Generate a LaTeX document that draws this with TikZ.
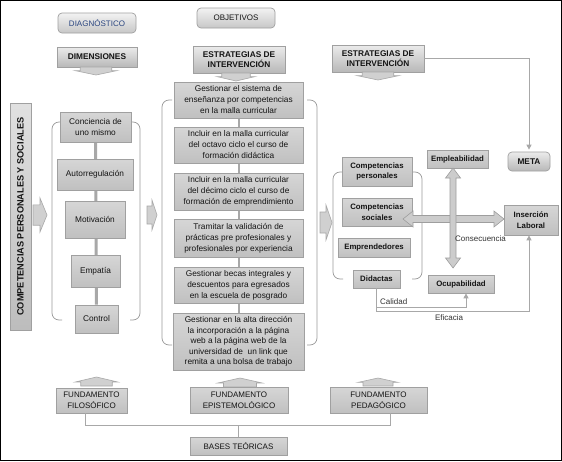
\documentclass[tikz,border=0pt]{standalone}
\usepackage{fontspec}
\setmainfont{Liberation Sans}
\usetikzlibrary{arrows.meta,backgrounds,calc}
\definecolor{bord}{HTML}{A0A0A0}
\definecolor{connc}{HTML}{A8A8A8}
\definecolor{txt}{HTML}{141414}
\definecolor{hdrtop}{HTML}{EBEBEB}
\definecolor{hdrbot}{HTML}{B8B8B8}
\definecolor{boxtop}{HTML}{D6D6D6}
\definecolor{boxbot}{HTML}{C0C0C0}
\definecolor{blkfill}{HTML}{D0D0D0}
\definecolor{blkdraw}{HTML}{A8A8A8}
\definecolor{diagblue}{HTML}{2A4580}
\newcommand\fsz[2]{\fontsize{#1}{#2}\selectfont}
\newcommand\blkright[4]{%
 \filldraw[blk] (#1,{#2-0.6*#4}) -- ({#1+0.5*#3},{#2-0.6*#4}) -- ({#1+0.5*#3},{#2-#4}) -- ({#1+#3},#2) -- ({#1+0.5*#3},{#2+#4}) -- ({#1+0.5*#3},{#2+0.6*#4}) -- (#1,{#2+0.6*#4}) -- cycle;}
\newcommand\blkvert[4]{%
 \filldraw[blk] ({#1-0.75*#4},#2) -- ({#1+0.75*#4},#2) -- ({#1+0.75*#4},{#2+0.45*(#3)}) -- ({#1+#4},{#2+0.45*(#3)}) -- (#1,{#2+(#3)}) -- ({#1-#4},{#2+0.45*(#3)}) -- ({#1-0.75*#4},{#2+0.45*(#3)}) -- cycle;}
\newcommand\dblh[5]{%
 \filldraw[dbl] (#1,#3) -- ({#1+10},{#3-#5}) -- ({#1+10},{#3-#4}) -- ({#2-10},{#3-#4}) -- ({#2-10},{#3-#5}) -- (#2,#3) -- ({#2-10},{#3+#5}) -- ({#2-10},{#3+#4}) -- ({#1+10},{#3+#4}) -- ({#1+10},{#3+#5}) -- cycle;}
\newcommand\dblv[5]{%
 \filldraw[dbl] (#3,#1) -- ({#3-#5},{#1+10}) -- ({#3-#4},{#1+10}) -- ({#3-#4},{#2-10}) -- ({#3-#5},{#2-10}) -- (#3,#2) -- ({#3+#5},{#2-10}) -- ({#3+#4},{#2-10}) -- ({#3+#4},{#1+10}) -- ({#3+#5},{#1+10}) -- cycle;}
\tikzset{
 base/.style={rectangle, inner sep=0pt, align=center, text=txt, draw=bord, line width=0.7pt},
 hdr/.style={base, top color=hdrtop, bottom color=hdrbot, font=\fsz{8.3}{10}\bfseries},
 box/.style={base, top color=boxtop, bottom color=boxbot, font=\fsz{8.3}{11}},
 rbox/.style={box, font=\fsz{7.8}{10.5}\bfseries},
 pill/.style={base, rounded corners=4pt, top color=white!95!black, bottom color=black!22, font=\fsz{8}{10}},
 fund/.style={box, font=\fsz{8}{11}},
 brk/.style={draw=black!40, line width=0.7pt, rounded corners=7pt},
 conn/.style={draw=connc, line width=1pt},
 blk/.style={fill=blkfill, draw=blkdraw, line width=0.6pt},
 dbl/.style={fill=black!20, draw=black!38, line width=0.6pt},
 lbl/.style={font=\fsz{8}{10}, text=black!80, inner sep=0pt},
 tip/.style={-{Triangle[length=5pt,width=5pt]}}
}
\begin{document}
\begin{tikzpicture}[x=1pt,y=-1pt]
\useasboundingbox (0,0) rectangle (562,461);

% top row
\node[pill, text=diagblue, minimum width=78pt, minimum height=20pt] (diag) at (97,23) {DIAGNÓSTICO};
\node[pill, minimum width=78pt, minimum height=20pt] (obj) at (236,18) {OBJETIVOS};
\node[hdr, minimum width=80pt, minimum height=20pt] (dim) at (97,57) {DIMENSIONES};
\node[hdr, minimum width=92pt, minimum height=27pt] (em) at (239,59.5) {ESTRATEGIAS DE\\INTERVENCIÓN};
\node[hdr, minimum width=92pt, minimum height=27pt] (er) at (378,58.5) {ESTRATEGIAS DE\\INTERVENCIÓN};
\node[hdr, font=\fsz{8.3}{10}\bfseries, rounded corners=4pt, minimum width=42pt, minimum height=19pt] (meta) at (529,161.5) {META};

\blkvert{96}{67}{8}{21}
\blkvert{236}{73}{8}{19}
\blkvert{378}{72}{8}{21}

% left bar
\node[base, top color=black!12, bottom color=black!26, minimum width=227pt, minimum height=21pt, rotate=90, font=\fsz{9.2}{11}\bfseries] (bar) at (20.5,216.5) {COMPETENCIAS PERSONALES Y SOCIALES};

% left column
\node[box, minimum width=71pt, minimum height=30pt] (c1) at (95.5,127) {Conciencia de\\uno mismo};
\node[box, minimum width=76pt, minimum height=31pt] (c2) at (95,174.5) {Autorregulación};
\node[box, minimum width=60pt, minimum height=37pt] (c3) at (95,219.5) {Motivación};
\node[box, minimum width=49pt, minimum height=32pt] (c4) at (95.5,271) {Empatía};
\node[box, minimum width=43pt, minimum height=28pt] (c5) at (96.5,319) {Control};

\blkright{33}{215}{14}{17}
\blkright{147}{215}{10}{15}
\blkright{320}{222.5}{12}{17.5}

% middle column
\node[box, minimum width=129pt, minimum height=36pt] (m1) at (238.5,100) {Gestionar el sistema de\\enseñanza por competencias\\en la malla curricular};
\node[box, minimum width=129pt, minimum height=36pt] (m2) at (238.5,145) {Incluir en la malla curricular\\del octavo ciclo el curso de\\formación didáctica};
\node[box, minimum width=129pt, minimum height=37pt] (m3) at (238.5,191.5) {Incluir en la malla curricular\\del décimo ciclo el curso de\\formación de emprendimiento};
\node[box, minimum width=129pt, minimum height=38pt] (m4) at (238.5,238) {Tramitar la validación de\\prácticas pre profesionales y\\profesionales por experiencia};
\node[box, minimum width=129pt, minimum height=36pt] (m5) at (238.5,285) {Gestionar becas integrales y\\descuentos para egresados\\en la escuela de posgrado};
\node[box, font=\fsz{8.3}{10.6}, minimum width=131pt, minimum height=57pt] (m6) at (238.5,341.5) {Gestionar en la alta dirección\\la incorporación a la página\\web a la página web de la\\universidad de\ \ un link que\\remita a una bolsa de trabajo};

% right group
\node[rbox, minimum width=70pt, minimum height=29pt] (r1) at (377,171.5) {Competencias\\personales};
\node[rbox, minimum width=70pt, minimum height=28pt] (r2) at (377,212) {Competencias\\sociales};
\node[rbox, minimum width=72pt, minimum height=19pt] (r3) at (374,247.5) {Emprendedores};
\node[rbox, minimum width=47pt, minimum height=18pt] (did) at (376.5,279) {Didactas};
\node[rbox, minimum width=61pt, minimum height=18pt] (empl) at (457.5,159) {Empleabilidad};
\node[rbox, minimum width=66pt, minimum height=18pt] (ocup) at (461,284) {Ocupabilidad};
\node[rbox, minimum width=54pt, minimum height=30pt] (ins) at (531,220) {Inserción\\Laboral};

\dblh{403}{504}{219}{3.5}{8}
\dblv{168}{268}{453}{3}{7.5}

\node[lbl, anchor=west] (lcons) at (455,239) {Consecuencia};
\node[lbl, anchor=west] (lcal) at (380,302) {Calidad};
\node[lbl] (lefi) at (449,318) {Eficacia};

\coordinate (cal) at (466,307);
\coordinate (efi) at (529,311);
\draw[conn, tip] (did.south) |- (cal) -- (cal |- ocup.south);
\draw[conn, tip] (did.south) |- (efi) -- (efi |- ins.south);
\draw[conn, tip, shorten >=2pt] (er.east) -| (meta.north);

% bottom
\blkvert{96.5}{386}{-9}{21}
\blkvert{240}{387}{-9}{22}
\blkvert{378}{386}{-8}{20}
\node[fund, minimum width=71pt, minimum height=25pt] (f1) at (91.5,400.5) {FUNDAMENTO\\FILOSÓFICO};
\node[fund, minimum width=98pt, minimum height=26pt] (f2) at (239,400) {FUNDAMENTO\\EPISTEMOLÓGICO};
\node[fund, minimum width=97pt, minimum height=26pt] (f3) at (378.5,400) {FUNDAMENTO\\PEDAGÓGICO};
\node[fund, minimum width=97pt, minimum height=18pt] (bases) at (238.5,446) {BASES TEÓRICAS};
\coordinate (h1) at (85,425);
\coordinate (h3) at (390,425);
\draw[conn] (f1.south -| h1) -- (h1) -- (h3) -- (f3.south -| h3);
\draw[conn] (bases.north) -- (bases.north |- h1);

\begin{pgfonlayer}{background}
\fill[white] (0,0) rectangle (562,461);
\draw[conn, line width=3pt] (c1) -- (c5);
\draw[conn, line width=2pt] (m1) -- (m6);
\draw[brk] (62,122) -- (52,122) -- (52,320) -- (62,320);
\draw[brk] (130,122) -- (140,122) -- (140,320) -- (130,320);
\draw[brk] (172,100) -- (162,100) -- (162,345) -- (172,345);
\draw[brk] (307,100) -- (317,100) -- (317,345) -- (307,345);
\draw[brk] (343,172) -- (333,172) -- (333,279) -- (343,279);
\draw[brk] (412,172) -- (422,172) -- (422,279) -- (412,279);
\end{pgfonlayer}

\draw[line width=1.3pt] (0.65,0.65) rectangle (561.35,460.35);
\end{tikzpicture}
\end{document}
